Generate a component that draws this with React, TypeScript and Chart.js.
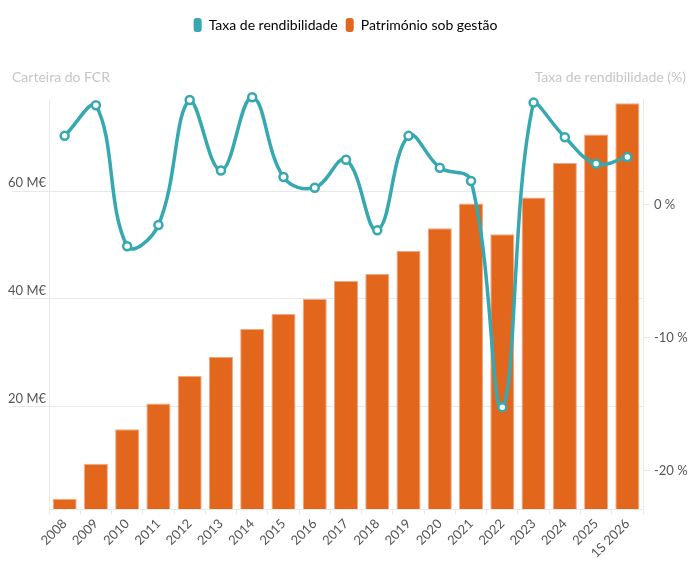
import React, { useEffect, useRef } from "react"
import { Chart, Plugin, registerables } from "chart.js"

Chart.register(...registerables)

// dados
const years = [
    "2008", "2009", "2010", "2011", "2012", "2013", "2014", "2015", "2016", "2017",
    "2018", "2019", "2020", "2021", "2022", "2023", "2024", "2025", "1S 2026",
]
const patrimonio = [2.9, 9.4, 15.8, 20.6, 25.7, 29.2, 34.4, 37.2, 40.0, 43.3, 44.6, 48.9, 53.1, 57.7, 52.0, 58.8, 65.2, 70.5, 76.3]
const rendibilidade = [5.2, 7.5, -3.1, -1.5, 7.9, 2.6, 8.1, 2.1, 1.3, 3.4, -1.9, 5.2, 2.8, 1.8, -15.2, 7.7, 5.1, 3.1, 3.6]
const leftTicks = [20, 40, 60]
const rightTicks = [-20, -10, 0]

const TEAL = "#36a8b0"
const ORANGE = "#e3661d"
const GRID = "#e9e9e9"

// espaço entre a legenda e a área do gráfico
const legendSpacer: Plugin = {
    id: "legendSpacer",
    beforeLayout(chart) {
        const legend = (chart as any).legend
        if (legend && !legend._spaced) {
            const fit = legend.fit
            legend.fit = function () {
                fit.call(this)
                this.height = 89
            }
            legend._spaced = true
        }
    },
}

// títulos dos eixos, no topo
const axisTitles: Plugin = {
    id: "axisTitles",
    afterDraw(chart) {
        const ctx = chart.ctx
        ctx.save()
        ctx.font = "14px Lato"
        ctx.fillStyle = "#c6c6c6"
        ctx.textBaseline = "middle"
        ctx.textAlign = "left"
        ctx.fillText("Carteira do FCR", 12, 77)
        ctx.textAlign = "right"
        ctx.fillText("Taxa de rendibilidade (%)", 686, 77)
        ctx.restore()
    },
}

const FundChart = () => {
    const canvasRef = useRef<HTMLCanvasElement | null>(null)

    useEffect(() => {
        const ctx = canvasRef.current?.getContext("2d")
        if (!ctx) return

        Chart.defaults.font.family = "Lato"
        Chart.defaults.color = "#555"

        const chart = new Chart(ctx, {
            type: "bar",
            data: {
                labels: years,
                datasets: [
                    {
                        type: "line",
                        label: "Taxa de rendibilidade",
                        data: rendibilidade,
                        yAxisID: "y1",
                        borderColor: TEAL,
                        backgroundColor: TEAL,
                        borderWidth: 3.5,
                        tension: 0.4,
                        pointRadius: 4,
                        pointBorderWidth: 2.5,
                        pointBackgroundColor: "#fff",
                        pointBorderColor: TEAL,
                        clip: false,
                        order: 0,
                    },
                    {
                        type: "bar",
                        label: "Património sob gestão",
                        data: patrimonio,
                        yAxisID: "y",
                        backgroundColor: ORANGE,
                        borderColor: "rgba(240,160,120,0.9)",
                        borderWidth: 1,
                        barPercentage: 0.77,
                        categoryPercentage: 1,
                        order: 1,
                    },
                ],
            },
            options: {
                animation: false,
                responsive: true,
                maintainAspectRatio: false,
                layout: { padding: { top: 10, left: 0, right: 7, bottom: 0 } },
                plugins: {
                    legend: {
                        position: "top",
                        labels: {
                            boxWidth: 8,
                            boxHeight: 14,
                            useBorderRadius: true,
                            borderRadius: 3,
                            padding: 8,
                            color: "#333",
                            font: { size: 14 },
                            generateLabels: (c) =>
                                c.data.datasets.map((ds: any, i) => ({
                                    text: ds.label,
                                    fillStyle: i === 0 ? TEAL : ORANGE,
                                    strokeStyle: i === 0 ? TEAL : ORANGE,
                                    lineWidth: 0,
                                    hidden: false,
                                    datasetIndex: i,
                                    borderRadius: 3,
                                })),
                        },
                    },
                    tooltip: { enabled: false },
                },
                scales: {
                    x: {
                        grid: { drawOnChartArea: false, tickLength: 5, color: GRID },
                        border: { color: GRID },
                        ticks: { maxRotation: 45, minRotation: 45, padding: 2, font: { size: 13 }, color: "#555" },
                        afterFit: (axis) => {
                            axis.height = 62
                        },
                    },
                    y: {
                        position: "left",
                        min: 1.0,
                        max: 77.1,
                        afterBuildTicks: (axis) => {
                            axis.ticks = leftTicks.map((v) => ({ value: v }))
                        },
                        afterFit: (axis) => {
                            axis.width = 49
                        },
                        grid: { color: GRID, tickLength: 37 },
                        border: { color: GRID },
                        ticks: {
                            padding: -34,
                            labelOffset: -8,
                            font: { size: 13 },
                            color: "#555",
                            callback: (v) => `${v} M€`,
                        },
                    },
                    y1: {
                        position: "right",
                        min: -22.86,
                        max: 7.97,
                        afterBuildTicks: (axis) => {
                            axis.ticks = rightTicks.map((v) => ({ value: v }))
                        },
                        afterFit: (axis) => {
                            axis.width = 48
                        },
                        grid: { drawOnChartArea: false, tickLength: 7, color: GRID },
                        border: { color: GRID },
                        ticks: {
                            padding: 4,
                            font: { size: 13 },
                            color: "#555",
                            callback: (v) => `${v} %`,
                        },
                    },
                },
            },
            plugins: [legendSpacer, axisTitles],
        })

        return () => chart.destroy()
    }, [])

    return (
        <div style={{ position: "absolute", left: 0, top: 0, width: 698, height: 571 }}>
            <canvas ref={canvasRef} />
        </div>
    )
}

export default function App() {
    return <FundChart />
}
